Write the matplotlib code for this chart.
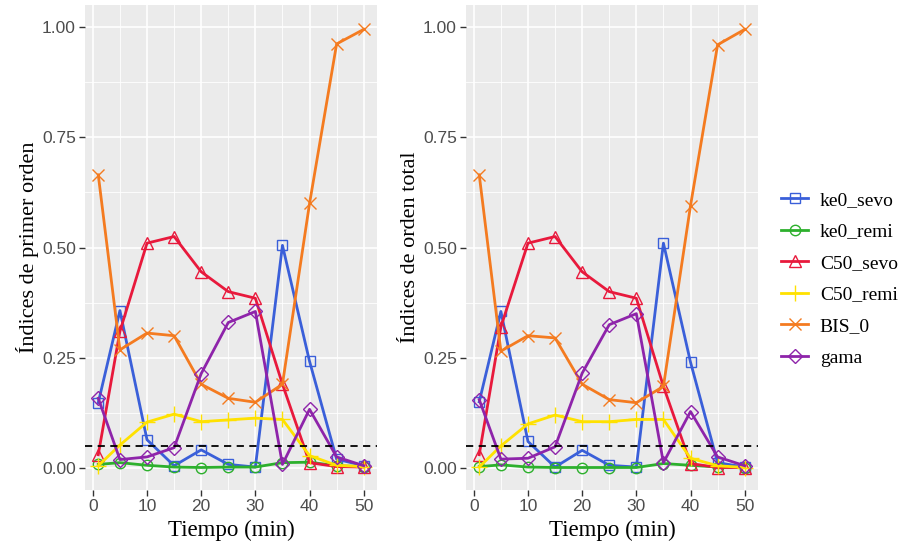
import numpy as np
import matplotlib
matplotlib.use("Agg")
import matplotlib.pyplot as plt
from matplotlib.ticker import MultipleLocator, FormatStrFormatter

tiempo = [1, 5, 10, 15, 20, 25, 30, 35, 40, 45, 50]

# indices de primer orden
ke0_sevo_1 = [0.148, 0.357, 0.064, 0.005, 0.041, 0.008, 0.002, 0.505, 0.242, 0.020, 0.005]
ke0_remi_1 = [0.008, 0.012, 0.006, 0.002, 0.001, 0.002, 0.002, 0.012, 0.013, 0.005, 0.003]
C50_sevo_1 = [0.030, 0.310, 0.510, 0.525, 0.445, 0.400, 0.385, 0.190, 0.012, 0.003, 0.002]
C50_remi_1 = [0.005, 0.052, 0.104, 0.122, 0.105, 0.109, 0.113, 0.110, 0.028, 0.006, 0.003]
BIS_0_1 = [0.665, 0.268, 0.306, 0.300, 0.190, 0.158, 0.149, 0.190, 0.600, 0.962, 0.995]
gama_1 = [0.158, 0.019, 0.025, 0.046, 0.214, 0.330, 0.355, 0.008, 0.133, 0.025, 0.005]

# indices de orden total
ke0_sevo_T = [0.150, 0.355, 0.060, 0.002, 0.040, 0.006, 0.002, 0.510, 0.240, 0.012, 0.002]
ke0_remi_T = [0.003, 0.007, 0.002, 0.001, 0.001, 0.001, 0.001, 0.010, 0.006, 0.002, 0.001]
C50_sevo_T = [0.030, 0.320, 0.510, 0.525, 0.445, 0.400, 0.385, 0.185, 0.010, 0.001, 0.001]
C50_remi_T = [0.002, 0.050, 0.100, 0.120, 0.105, 0.105, 0.110, 0.110, 0.022, 0.005, 0.001]
BIS_0_T = [0.665, 0.265, 0.300, 0.295, 0.190, 0.155, 0.148, 0.185, 0.595, 0.960, 0.995]
gama_T = [0.155, 0.020, 0.022, 0.048, 0.215, 0.325, 0.350, 0.012, 0.128, 0.025, 0.005]

nombres = ["ke0_sevo", "ke0_remi", "C50_sevo", "C50_remi", "BIS_0", "gama"]
colores = ["#3A5FD9", "#2DB02D", "#E8193C", "#FFE100", "#F47B20", "#8E24AA"]
marcas = ["s", "o", "^", "+", "x", "D"]
tamanos = [7.5, 7.5, 8.5, 11, 9, 7]

serif = "Liberation Serif"
sans = "Liberation Sans"

fig = plt.figure(figsize=(9.06, 5.46), dpi=100)
ax1 = fig.add_axes([0.0938, 0.1026, 0.3223, 0.888])
ax2 = fig.add_axes([0.5143, 0.1026, 0.3223, 0.888])

def panel(ax, series, ylabel):
    ax.set_facecolor("#EBEBEB")
    for vals, nom, col, m, ms in zip(series, nombres, colores, marcas, tamanos):
        ax.plot(tiempo, vals, color=col, lw=2, marker=m, markersize=ms,
                markerfacecolor="none", markeredgecolor=col, markeredgewidth=1.0,
                label=nom, zorder=3)
    ax.axhline(0.05, color="black", ls=(0, (4, 3)), lw=1.3, zorder=4)
    ax.set_xlim(-1.45, 52.45)
    ax.set_ylim(-0.05, 1.05)
    ax.xaxis.set_major_locator(MultipleLocator(10))
    ax.xaxis.set_minor_locator(MultipleLocator(5))
    ax.yaxis.set_major_locator(MultipleLocator(0.25))
    ax.yaxis.set_minor_locator(MultipleLocator(0.125))
    ax.yaxis.set_major_formatter(FormatStrFormatter("%.2f"))
    ax.grid(which="major", color="white", lw=1.2, zorder=0)
    ax.grid(which="minor", color="white", lw=0.6, zorder=0)
    ax.set_axisbelow(True)
    for s in ax.spines.values():
        s.set_visible(False)
    ax.tick_params(which="major", length=4, width=1, color="#333333",
                   labelcolor="#4D4D4D", labelsize=12.5, pad=2.5)
    ax.tick_params(which="minor", length=0)
    for lab in ax.get_xticklabels() + ax.get_yticklabels():
        lab.set_fontfamily(sans)
    ax.set_xlabel("Tiempo (min)", fontfamily=serif, fontsize=16.5, labelpad=4)
    ax.set_ylabel(ylabel, fontfamily=serif, fontsize=16, labelpad=2)

panel(ax1, [ke0_sevo_1, ke0_remi_1, C50_sevo_1, C50_remi_1, BIS_0_1, gama_1],
      "Índices de primer orden")
panel(ax2, [ke0_sevo_T, ke0_remi_T, C50_sevo_T, C50_remi_T, BIS_0_T, gama_T],
      "Índices de orden total")

handles, labels = ax2.get_legend_handles_labels()
fig.legend(handles, labels, loc="center left", bbox_to_anchor=(0.862, 0.489),
           frameon=False, prop={"family": serif, "size": 14},
           handlelength=1.4, labelspacing=0.72, handletextpad=0.6,
           borderaxespad=0, borderpad=0)

fig.savefig("out.png", dpi=100)
